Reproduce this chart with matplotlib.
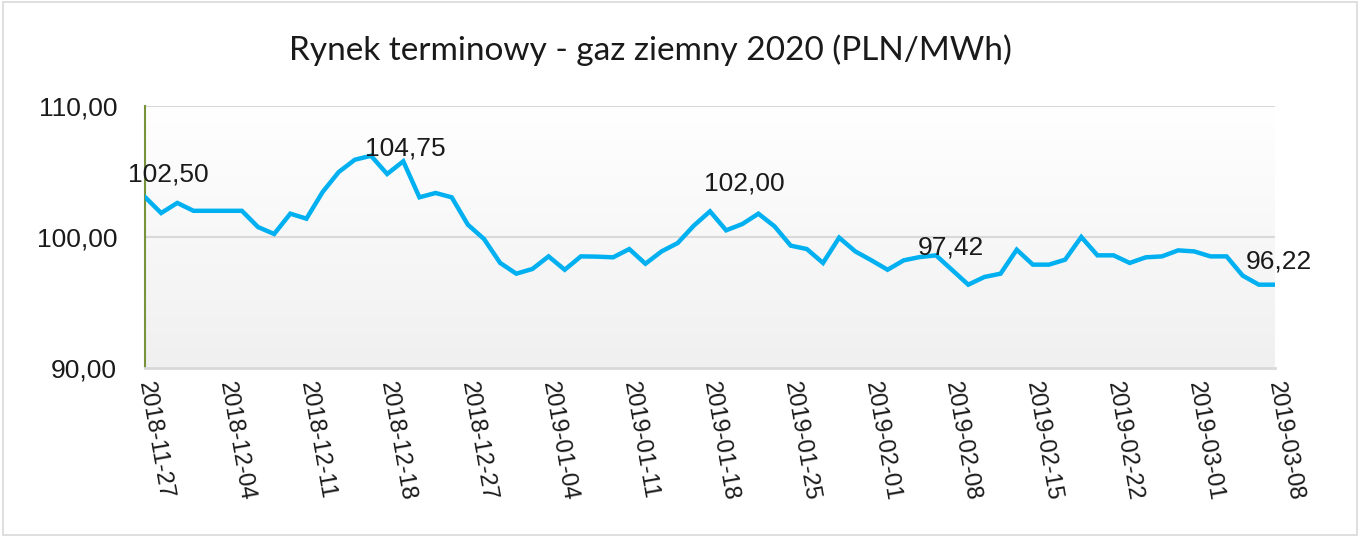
import numpy as np
import matplotlib.pyplot as plt
from matplotlib.patches import Rectangle
from matplotlib.ticker import FuncFormatter

# daily prices (PLN/MWh)
prices = [103.05, 101.83, 102.60, 102.00, 102.00, 102.00, 102.00, 100.76, 100.23, 101.78,
          101.40, 103.43, 104.96, 105.90, 106.20, 104.81, 105.78, 103.03, 103.36, 103.03,
          100.94, 99.85, 98.02, 97.20, 97.56, 98.52, 97.50, 98.52, 98.50, 98.45,
          99.08, 97.96, 98.90, 99.54, 100.87, 101.96, 100.51, 100.99, 101.78, 100.81,
          99.34, 99.08, 98.02, 99.95, 98.90, 98.22, 97.50, 98.22, 98.47, 98.60,
          97.48, 96.36, 96.95, 97.20, 99.03, 97.89, 97.89, 98.27, 100.00, 98.60,
          98.60, 98.02, 98.45, 98.52, 98.98, 98.90, 98.52, 98.52, 97.05, 96.36,
          96.36]

tick_labels = ['2018-11-27', '2018-12-04', '2018-12-11', '2018-12-18', '2018-12-27',
               '2019-01-04', '2019-01-11', '2019-01-18', '2019-01-25', '2019-02-01',
               '2019-02-08', '2019-02-15', '2019-02-22', '2019-03-01', '2019-03-08']

# data labels shown on the chart
label_idx = [0, 16, 37, 50, 70]
label_text = ['102,50', '104,75', '102,00', '97,42', '96,22']
label_offset = [(17, 16), (1.5, 9.5), (1.5, 29.5), (-0.7, 16.5), (3, 16.5)]

font = 'Liberation Sans'
x = np.arange(len(prices))

fig = plt.figure(figsize=(13.6, 5.36), dpi=100)
ax = fig.add_axes([145 / 1360, 1 - 368 / 536, 1130 / 1360, 262 / 536])

# soft white-to-grey plot background
grad = np.linspace(1.0, 0.0, 256).reshape(-1, 1)
ax.imshow(grad, extent=[0, len(prices) - 1, 90, 110], aspect='auto',
          cmap=plt.matplotlib.colors.LinearSegmentedColormap.from_list('bg', ['#f0f0f0', '#ffffff']),
          zorder=0, origin='upper')

for yv in [100, 110]:
    ax.axhline(yv, color='#d9d9d9', lw=1.5, zorder=1)

ax.plot(x, prices, color='#00b0f0', lw=3.2, solid_joinstyle='miter', zorder=3)

for i, t, (dx, dy) in zip(label_idx, label_text, label_offset):
    ax.annotate(t, (x[i], prices[i]), xytext=(dx, dy), textcoords='offset points',
                ha='center', va='center', fontsize=19, family=font, color='#1a1a1a', zorder=4)

ax.set_xlim(0, len(prices) - 1)
ax.set_ylim(90, 110)
ax.set_yticks([90, 100, 110])
ax.yaxis.set_major_formatter(FuncFormatter(lambda v, p: f'{v:.2f}'.replace('.', ',')))
ax.set_xticks(x[::5])
ax.set_xticklabels(tick_labels, rotation=-80, rotation_mode='anchor', ha='left', va='center',
                   fontsize=17, family=font, color='#1a1a1a')
for lab in ax.get_yticklabels():
    lab.set_fontsize(19)
    lab.set_family(font)
    lab.set_color('#1a1a1a')
ax.tick_params(axis='y', length=0, pad=20)
ax.tick_params(axis='x', length=0, pad=10)

for s in ['top', 'right']:
    ax.spines[s].set_visible(False)
ax.spines['bottom'].set_color('#d9d9d9')
ax.spines['bottom'].set_linewidth(2)
ax.spines['left'].set_color('#77933c')
ax.spines['left'].set_linewidth(1.5)

fig.text(650 / 1360, 1 - 50 / 536, 'Rynek terminowy - gaz ziemny 2020 (PLN/MWh)',
         ha='center', va='center', fontsize=24, family='Lato', color='#1a1a1a')

fig.patches.append(Rectangle((0.002, 0.002), 0.996, 0.994, transform=fig.transFigure,
                             fill=False, edgecolor='#d9d9d9', lw=1.2))

fig.savefig('out.png', dpi=100)
